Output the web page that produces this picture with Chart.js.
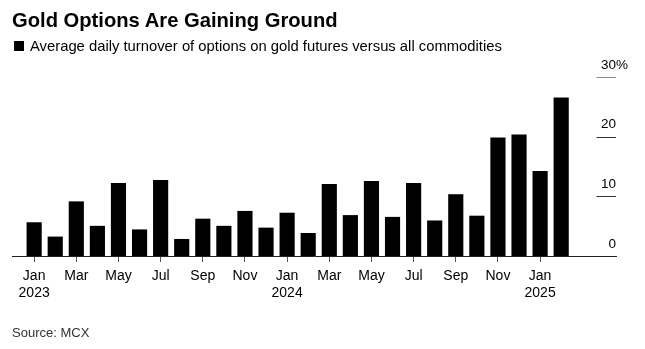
<!DOCTYPE html>
<html>
<head>
<meta charset="utf-8">
<script src="https://cdn.jsdelivr.net/npm/chart.js@4.4.1/dist/chart.umd.min.js"></script>
<style>
  html, body { margin: 0; padding: 0; background: #fff; }
  #wrap { position: relative; width: 645px; height: 349px; font-family: "Liberation Sans", Arial, sans-serif; color: #000; }
  #gold-chart { position: absolute; left: 0; top: 0; }
  .title { position: absolute; left: 12px; top: 10px; font-size: 20.2px; line-height: 1; font-weight: bold; white-space: nowrap; }
  .sub { position: absolute; left: 14px; top: 39px; font-size: 14.8px; line-height: 1; white-space: nowrap; }
  .sub i { display: inline-block; width: 10px; height: 10px; background: #000; margin-right: 6px; }
  .source { position: absolute; left: 12px; top: 326px; font-size: 13px; line-height: 1; color: #333; }
</style>
</head>
<body>
<div id="wrap">
  <canvas id="gold-chart" width="645" height="349"></canvas>
  <div class="title">Gold Options Are Gaining Ground</div>
  <div class="sub"><i></i>Average daily turnover of options on gold futures versus all commodities</div>
  <div class="source">Source: MCX</div>
</div>
<script>
// monthly share of gold options in commodity options turnover, %
const months = [
  "Jan 2023", "Feb 2023", "Mar 2023", "Apr 2023", "May 2023", "Jun 2023",
  "Jul 2023", "Aug 2023", "Sep 2023", "Oct 2023", "Nov 2023", "Dec 2023",
  "Jan 2024", "Feb 2024", "Mar 2024", "Apr 2024", "May 2024", "Jun 2024",
  "Jul 2024", "Aug 2024", "Sep 2024", "Oct 2024", "Nov 2024", "Dec 2024",
  "Jan 2025", "Feb 2025"
]
const goldShare = [
  5.6, 3.2, 9.1, 5.0, 12.2, 4.4,
  12.7, 2.8, 6.2, 5.0, 7.5, 4.7,
  7.2, 3.8, 12.0, 6.8, 12.5, 6.5,
  12.2, 5.9, 10.3, 6.7, 19.8, 20.3,
  14.2, 26.5
]
const yTicks = [0, 10, 20, 30]
const yTickLabels = ["0", "10", "20", "30"]

const font = "Liberation Sans, Arial, sans-serif"

// short tick segments + labels on the right, labels sit above their line
const rightAxis = {
  id: 'rightAxis',
  afterDraw(chart) {
    const ctx = chart.ctx
    const y = chart.scales.y
    const right = chart.chartArea.right
    ctx.save()
    ctx.font = "13.5px " + font
    ctx.fillStyle = "#000"
    ctx.textBaseline = "alphabetic"
    for (let i = 0; i < yTicks.length; i++) {
      const py = y.getPixelForValue(yTicks[i])
      if (yTicks[i] !== 0) {
        ctx.strokeStyle = i === yTicks.length - 1 ? "#8a8a8a" : "#333"
        ctx.lineWidth = 1
        ctx.beginPath()
        ctx.moveTo(right - 19.5, Math.round(py) + 0.5)
        ctx.lineTo(right, Math.round(py) + 0.5)
        ctx.stroke()
      }
      ctx.textAlign = "right"
      ctx.fillText(yTickLabels[i], right, py - 8.5)
      if (i === yTicks.length - 1) {
        ctx.textAlign = "left"
        ctx.fillText("%", right, py - 8.5)
      }
    }
    ctx.restore()
  }
}

new Chart(document.getElementById("gold-chart"), {
  type: 'bar',
  data: {
    datasets: [{
      data: goldShare.map((v, i) => ({ x: i, y: v })),
      backgroundColor: "#000",
      borderWidth: 0,
      barThickness: 14.5
    }]
  },
  options: {
    responsive: false,
    animation: false,
    layout: { padding: { top: 77, left: 12, right: 29, bottom: 42 } },
    plugins: { legend: { display: false }, tooltip: { enabled: false } },
    scales: {
      x: {
        type: 'linear',
        min: -1.05,
        max: 27.6,
        offset: false,
        afterBuildTicks: s => {
          s.ticks = []
          for (let i = 0; i < months.length; i += 2) s.ticks.push({ value: i })
        },
        grid: { drawOnChartArea: false, offset: false, tickLength: 6, tickColor: "#555" },
        border: { display: true, color: "#222", width: 1 },
        ticks: {
          autoSkip: false,
          maxRotation: 0,
          padding: 5,
          color: "#000",
          font: { family: font, size: 14, lineHeight: 1.25 },
          callback: v => {
            const [m, yr] = months[v].split(" ")
            return m === "Jan" ? [m, yr] : m
          }
        }
      },
      y: {
        display: false,
        min: 0,
        max: 30
      }
    }
  },
  plugins: [rightAxis]
})
</script>
</body>
</html>
